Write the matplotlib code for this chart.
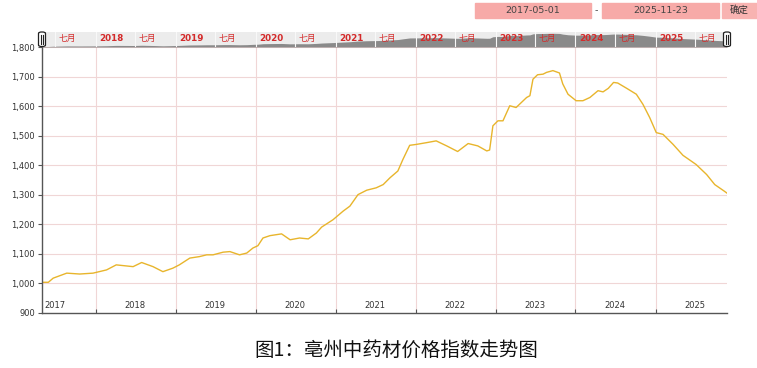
import matplotlib
matplotlib.use("Agg")
import matplotlib.pyplot as plt
import matplotlib.dates as mdates
from matplotlib.patches import FancyBboxPatch, Rectangle
import numpy as np
import pandas as pd

plt.rcParams['font.family'] = ['DejaVu Sans', 'Noto Sans CJK SC']

# ---- data ----
dates = [
    "2017-05-01", "2017-05-30", "2017-06-21", "2017-08-22", "2017-10-20", "2017-12-20",
    "2018-02-20", "2018-04-05", "2018-06-21", "2018-07-30", "2018-09-20", "2018-11-04", "2018-12-20",
    "2019-01-18", "2019-03-07", "2019-04-20", "2019-05-23", "2019-06-21", "2019-08-06", "2019-09-06",
    "2019-10-20", "2019-11-22", "2019-12-20",
    "2020-01-12", "2020-02-04", "2020-03-07", "2020-04-29", "2020-06-07", "2020-07-20", "2020-08-29",
    "2020-10-05", "2020-10-29", "2020-12-20",
    "2021-02-04", "2021-03-07", "2021-04-13", "2021-05-23", "2021-07-05", "2021-08-06", "2021-09-06",
    "2021-10-12", "2021-11-04", "2021-12-05",
    "2022-01-04", "2022-02-20", "2022-04-05", "2022-05-23", "2022-07-12", "2022-08-29", "2022-10-12",
    "2022-11-22", "2022-12-05", "2022-12-20",
    "2023-01-12", "2023-02-04", "2023-03-07", "2023-04-05", "2023-04-29", "2023-05-23", "2023-06-07",
    "2023-06-21", "2023-07-12", "2023-08-06", "2023-08-22", "2023-09-20", "2023-10-20", "2023-11-04",
    "2023-11-28",
    "2024-01-04", "2024-02-04", "2024-03-07", "2024-04-13", "2024-05-06", "2024-05-30", "2024-06-23",
    "2024-07-12", "2024-08-22", "2024-10-05", "2024-11-04", "2024-12-05",
    "2025-01-04", "2025-02-04", "2025-03-22", "2025-05-06", "2025-07-05", "2025-08-22", "2025-09-28",
    "2025-11-10", "2025-11-23",
]
values = [
    1003, 1003, 1017, 1034, 1031, 1034,
    1045, 1062, 1056, 1070, 1056, 1039, 1051,
    1062, 1085, 1090, 1096, 1096, 1105, 1107,
    1096, 1102, 1119,
    1127, 1153, 1161, 1167, 1147, 1153, 1150,
    1170, 1190, 1215,
    1244, 1261, 1300, 1315, 1323, 1334, 1357,
    1380, 1419, 1467,
    1470, 1476, 1482, 1465, 1446, 1473, 1465,
    1448, 1451, 1533,
    1550, 1550, 1601, 1595, 1612, 1629, 1635,
    1691, 1706, 1708, 1714, 1720, 1712, 1675,
    1640,
    1618, 1618, 1629, 1652, 1648, 1660, 1680,
    1678, 1660, 1640, 1606, 1561,
    1510, 1504, 1470, 1433, 1402, 1368, 1334,
    1312, 1305,
]
start_date = "2017-05-01"
end_date = "2025-11-23"
years = [2017, 2018, 2019, 2020, 2021, 2022, 2023, 2024, 2025]
y_ticks = [900, 1000, 1100, 1200, 1300, 1400, 1500, 1600, 1700, 1800]
nav_month_label = "七月"
button_label = "确定"
caption = "图1：亳州中药材价格指数走势图"

# ---- figure ----
W, H = 757, 368
fig = plt.figure(figsize=(W / 100, H / 100), dpi=100)

def fx(px):
    return px / W

def fy(py):
    return (H - py) / H

x = pd.to_datetime(dates)
xs = pd.Timestamp(start_date)
xe = pd.Timestamp(end_date)

line_color = '#e8b52c'
grid_color = '#f0d6d6'
axis_color = '#555555'

ax = fig.add_axes([fx(42), fy(312.7), fx(727) - fx(42), fy(47) - fy(312.7)])
ax.plot(x, values, color=line_color, lw=1.0)
ax.set_xlim(xs, xe)
ax.set_ylim(900, 1800)
ax.set_yticks(y_ticks)
ax.set_yticklabels([f"{v:,}" for v in y_ticks])
for v in y_ticks[1:]:
    ax.axhline(v, color=grid_color, lw=0.8, zorder=0)
for yr in years[1:]:
    ax.axvline(pd.Timestamp(f"{yr}-01-01"), color=grid_color, lw=0.8, zorder=0)
ax.set_xticks([pd.Timestamp(f"{yr}-01-01") for yr in years[1:]])
ax.set_xticklabels([])
ax.tick_params(axis='x', direction='in', length=3, color=axis_color, width=0.8)
ax.tick_params(axis='y', direction='out', length=3, color=axis_color, width=0.8,
               labelsize=6, labelcolor='#333333', pad=2)
for s in ['top', 'right']:
    ax.spines[s].set_visible(False)
for s in ['left', 'bottom']:
    ax.spines[s].set_color(axis_color)
    ax.spines[s].set_linewidth(1.0)
for yr in years:
    ax.annotate(str(yr), xy=(pd.Timestamp(f"{yr}-07-01"), 0), xycoords=('data', 'axes fraction'),
                xytext=(0, 5), textcoords='offset points', ha='center', va='center',
                fontsize=6, color='#333333')

# ---- navigator ----
nav = fig.add_axes([fx(42), fy(47), fx(727) - fx(42), fy(32) - fy(47)])
nav.set_facecolor('#ececec')
nav.set_xlim(xs, xe)
nav.set_ylim(975, 1790)
nav.fill_between(x, 975, values, color='#8a8a8a', lw=0)
nav.axis('off')
nav.add_patch(Rectangle((0, 0), 1, 1, transform=nav.transAxes, color='#ececec', zorder=-1))
for yr in years:
    for m, lab, bold in [(1, str(yr), True), (7, nav_month_label, False)]:
        d = pd.Timestamp(f"{yr}-{m:02d}-01")
        if d <= xs or d >= xe:
            continue
        nav.axvline(d, color='#f8f8f8', lw=0.8, zorder=1)
        nav.annotate(lab, xy=(d, 0.55), xycoords=('data', 'axes fraction'),
                     xytext=(2.5, 0), textcoords='offset points', ha='left', va='center',
                     fontsize=6.3, color='#d42a2a', fontweight='bold' if bold else 'normal',
                     family=['DejaVu Sans', 'Noto Sans CJK SC'], zorder=3)

# handles
for cx in (42, 727):
    hp = FancyBboxPatch((fx(cx - 3.5), fy(46.5)), fx(7), fy(32) - fy(46.5),
                        boxstyle="round,pad=0,rounding_size=0.004",
                        transform=fig.transFigure, facecolor='white', edgecolor='#222222', lw=0.9,
                        zorder=5)
    fig.patches.append(hp)
    for dx in (-1.2, 1.2):
        fig.lines.append(plt.Line2D([fx(cx + dx), fx(cx + dx)], [fy(43.5), fy(35)],
                                    transform=fig.transFigure, color='#222222', lw=0.8, zorder=6))

# ---- date range inputs ----
box_color = '#f7aaa8'
for x0, x1, lab in [(475, 591, start_date), (602, 719, end_date)]:
    fig.patches.append(Rectangle((fx(x0), fy(17.5)), fx(x1) - fx(x0), fy(3) - fy(17.5),
                                 transform=fig.transFigure, color=box_color))
    fig.text(fx((x0 + x1) / 2), fy(10.3), lab, ha='center', va='center', fontsize=6.8, color='#444444')
fig.text(fx(596.5), fy(10.3), "-", ha='center', va='center', fontsize=6.8, color='#444444')
fig.patches.append(Rectangle((fx(721.5), fy(17.5)), fx(757) - fx(721.5), fy(3) - fy(17.5),
                             transform=fig.transFigure, color='#f8b3b1'))
fig.text(fx(739), fy(10.3), button_label, ha='center', va='center', fontsize=6.8, color='#333333',
         family=['Noto Sans CJK SC', 'DejaVu Sans'])

# ---- caption ----
fig.text(fx(396), fy(350.5), caption, ha='center', va='center', fontsize=14, color='#111111',
         family=['Noto Sans CJK SC', 'DejaVu Sans'])

fig.savefig("out.png", dpi=100, facecolor='white')
